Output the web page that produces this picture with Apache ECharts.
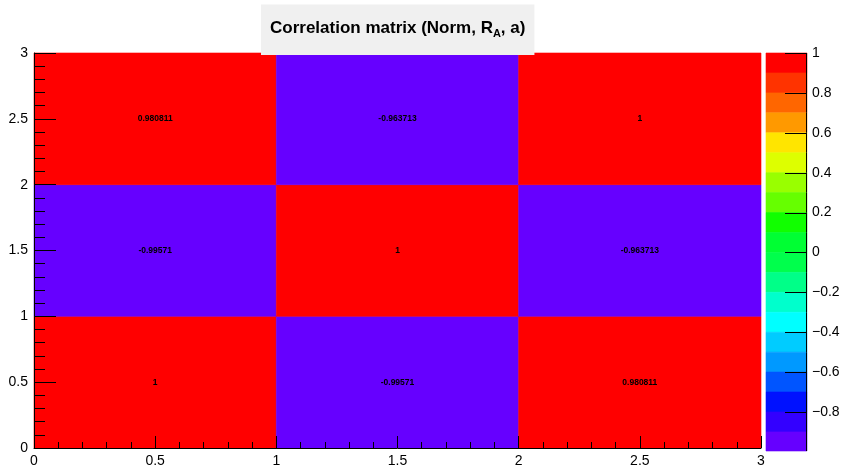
<!DOCTYPE html>
<html>
<head>
  <meta charset="utf-8">
</head>
<body style="margin: 0">
  <div id="container" style="width: 844px; height: 468px"></div>
  <script type="text/javascript" src="https://fastly.jsdelivr.net/npm/echarts@6/dist/echarts.min.js"></script>
  <script type="text/javascript">
    // cell centres and correlation values (rows from bottom to top)
    const xCenters = [0.5, 1.5, 2.5];
    const yCenters = [0.5, 1.5, 2.5];
    const corrRows = [
      [1, -0.99571, 0.980811],
      [-0.99571, 1, -0.963713],
      [0.980811, -0.963713, 1]
    ];

    // palette bands (upper edges, top to bottom) and their colours
    const bandEdges = [1, 0.9, 0.8, 0.7, 0.6, 0.5, 0.4, 0.3, 0.2, 0.1, 0,
      -0.1, -0.2, -0.3, -0.4, -0.5, -0.6, -0.7, -0.8, -0.9, -0.99571];
    const bandColors = ['#ff0000', '#ff3300', '#ff6600', '#ff9900', '#ffe500',
      '#ddff00', '#99ff00', '#66ff00', '#11ff00', '#00ff33',
      '#00ff4c', '#00ff88', '#00ffcc', '#00ffff', '#00ccff',
      '#0099ff', '#0055ff', '#0011ff', '#3300ff', '#6600ff'];
    const paletteTicks = [-0.8, -0.6, -0.4, -0.2, 0, 0.2, 0.4, 0.6, 0.8, 1];

    const FONT = 'Liberation Sans';
    const PAL_MIN = bandEdges[bandEdges.length - 1];

    function colorFor(v) {
      for (let i = 0; i < bandColors.length; i++) {
        if (v >= bandEdges[i + 1]) return bandColors[i];
      }
      return bandColors[bandColors.length - 1];
    }

    function isTick(v) {
      return paletteTicks.some(function (t) { return Math.abs(t - v) < 1e-6; });
    }

    const cellData = [];
    yCenters.forEach(function (y, r) {
      xCenters.forEach(function (x, c) {
        cellData.push([x, y, corrRows[r][c]]);
      });
    });

    const bandData = bandColors.map(function (col, i) {
      return [bandEdges[i + 1], bandEdges[i], i];
    });

    const dom = document.getElementById('container');
    const myChart = echarts.init(dom, null, { renderer: 'canvas' });

    const axisCommon = {
      type: 'value',
      min: 0,
      max: 3,
      interval: 0.5,
      z: 20,
      axisLine: { show: true, onZero: false, lineStyle: { color: '#000', width: 1 } },
      splitLine: { show: false }
    };

    const option = {
      backgroundColor: '#fff',
      animation: false,
      title: {
        text: 'Correlation matrix (Norm, R{sub|A}, a)',
        left: 261,
        top: 2,
        backgroundColor: '#f0f0f0',
        padding: [15, 9, 16, 9],
        textStyle: {
          fontFamily: FONT,
          fontSize: 17,
          fontWeight: 'bold',
          color: '#000',
          rich: {
            sub: {
              fontFamily: FONT,
              fontSize: 11,
              fontWeight: 'bold',
              color: '#000',
              padding: [11, 0, 0, 0]
            }
          }
        }
      },
      grid: [
        { left: 34, right: 83, top: 53, bottom: 17 },
        { left: 766, right: 37, top: 53, bottom: 17 }
      ],
      xAxis: [
        Object.assign({}, axisCommon, {
          gridIndex: 0,
          axisTick: { show: true, inside: true, length: 12, lineStyle: { color: '#000' } },
          minorTick: { show: true, splitNumber: 5, length: 6, lineStyle: { color: '#000' } },
          axisLabel: { color: '#000', fontFamily: FONT, fontSize: 14, margin: 6 }
        }),
        {
          type: 'value', gridIndex: 1, min: 0, max: 1, show: false
        }
      ],
      yAxis: [
        Object.assign({}, axisCommon, {
          gridIndex: 0,
          axisTick: { show: true, inside: true, length: 22, lineStyle: { color: '#000' } },
          minorTick: { show: true, splitNumber: 5, length: 11, lineStyle: { color: '#000' } },
          axisLabel: { color: '#000', fontFamily: FONT, fontSize: 14, margin: 6 }
        }),
        {
          type: 'value',
          gridIndex: 1,
          position: 'right',
          min: PAL_MIN,
          max: 1,
          axisLine: { show: false, onZero: false },
          splitLine: { show: false },
          axisTick: { show: false },
          axisLabel: {
            color: '#000', fontFamily: FONT, fontSize: 14, margin: 5,
            customValues: paletteTicks,
            formatter: function (v) {
              return String(v).replace('-', '\u2212');
            }
          }
        }
      ],
      series: [
        {
          type: 'custom',
          xAxisIndex: 0,
          yAxisIndex: 0,
          z: 1,
          data: cellData,
          renderItem: function (params, api) {
            const x = api.value(0), y = api.value(1), v = api.value(2);
            const p0 = api.coord([x - 0.5, y + 0.5]);
            const p1 = api.coord([x + 0.5, y - 0.5]);
            const c = api.coord([x, y]);
            const col = colorFor(v);
            return {
              type: 'group',
              children: [
                {
                  type: 'rect',
                  shape: { x: p0[0], y: p0[1], width: p1[0] - p0[0], height: p1[1] - p0[1] },
                  style: { fill: col, stroke: col, lineWidth: 0.6 }
                },
                {
                  type: 'text',
                  x: c[0],
                  y: c[1],
                  z2: 5,
                  style: {
                    text: String(v),
                    align: 'center',
                    verticalAlign: 'middle',
                    fontFamily: FONT,
                    fontSize: 8.5,
                    fontWeight: 'bold',
                    fill: '#000'
                  }
                }
              ]
            };
          }
        },
        {
          // palette bands; the palette axis line and ticks are thin black rects on their right edge
          type: 'custom',
          xAxisIndex: 1,
          yAxisIndex: 1,
          z: 1,
          data: bandData,
          renderItem: function (params, api) {
            const lo = api.value(0), hi = api.value(1), i = api.value(2);
            const p0 = api.coord([0, hi]);
            const p1 = api.coord([1, lo]);
            const xr = Math.round(p1[0]);
            const children = [
              {
                type: 'rect',
                z2: 0,
                shape: { x: p0[0], y: p0[1], width: p1[0] - p0[0], height: p1[1] - p0[1] },
                style: { fill: bandColors[i], stroke: bandColors[i], lineWidth: 0.6 }
              },
              {
                type: 'rect',
                z2: 10,
                shape: { x: xr - 1, y: p0[1], width: 1, height: p1[1] - p0[1] },
                style: { fill: '#000' }
              }
            ];
            if (isTick(hi)) {
              children.push({
                type: 'rect',
                z2: 10,
                shape: { x: xr - 22, y: Math.round(p0[1]), width: 22, height: 1 },
                style: { fill: '#000' }
              });
            }
            return { type: 'group', children: children };
          }
        }
      ]
    };

    myChart.setOption(option);
    window.addEventListener('resize', myChart.resize);
  </script>
</body>
</html>
